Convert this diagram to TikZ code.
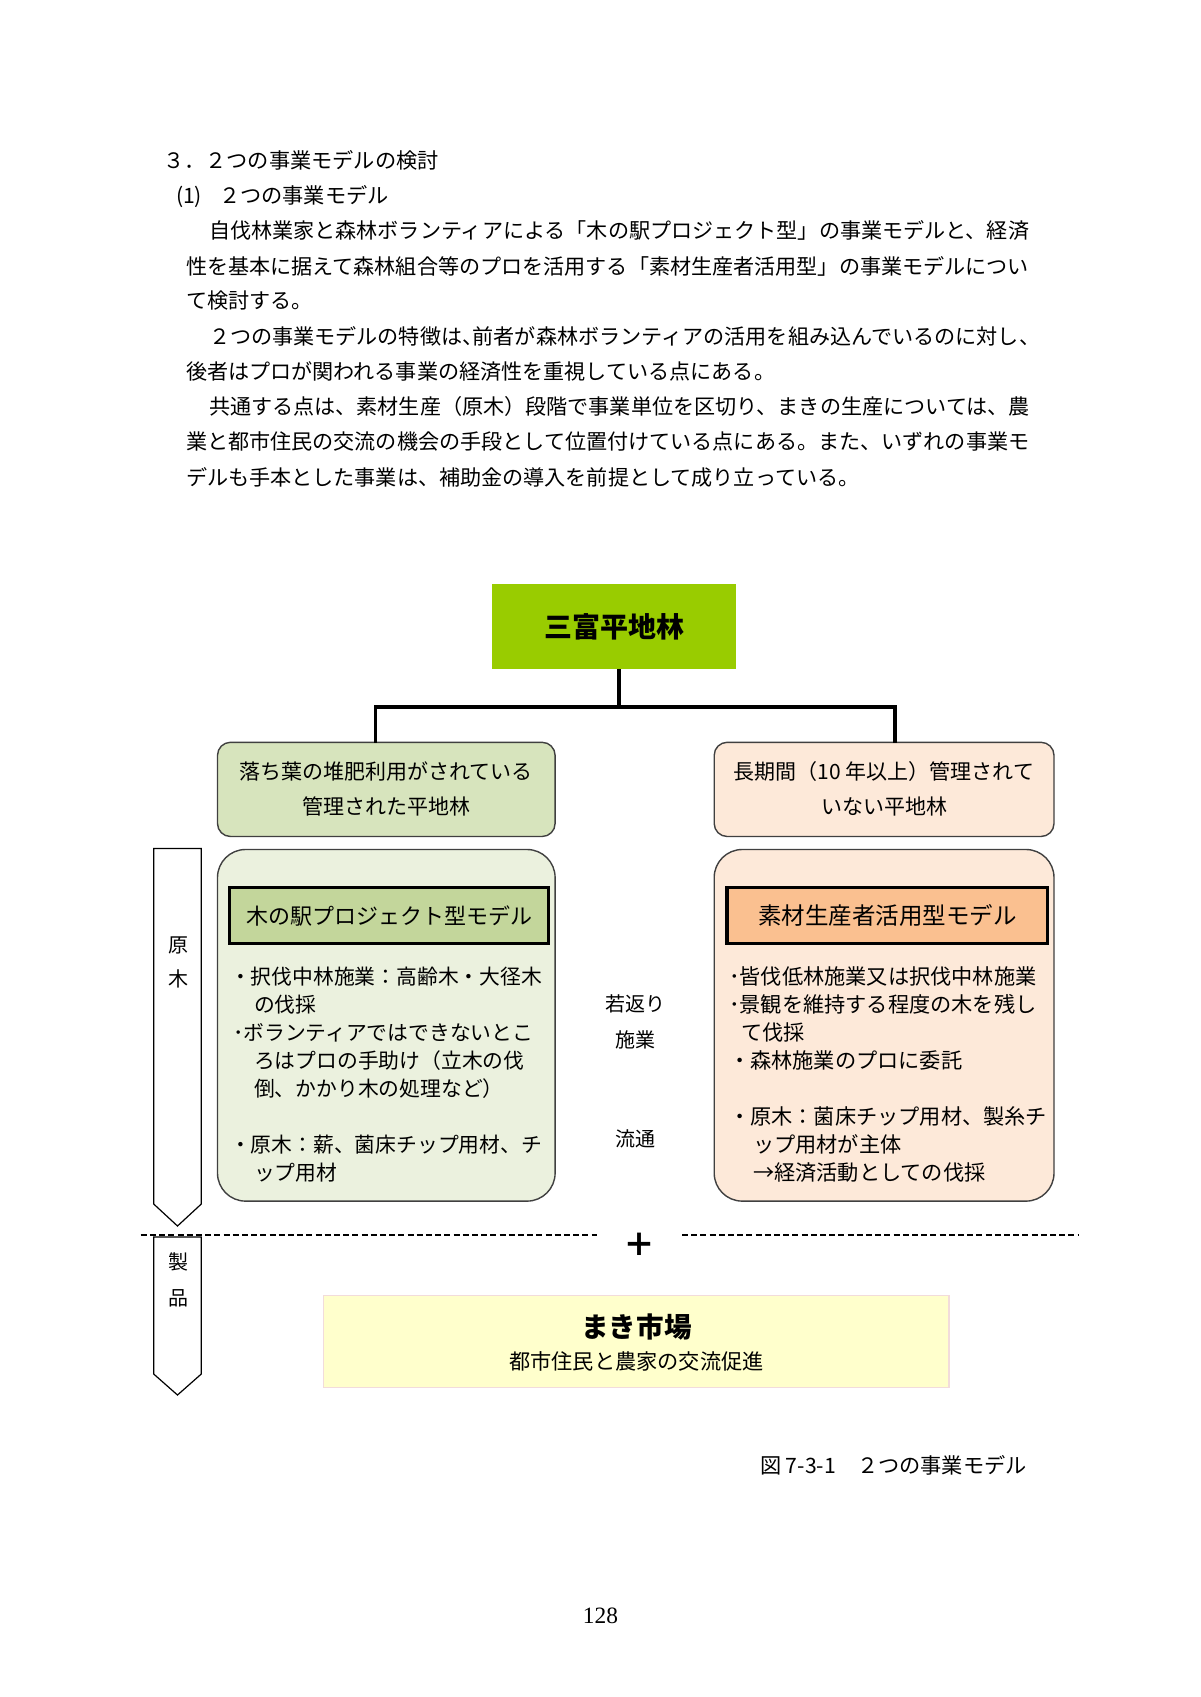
\documentclass[tikz,border=0pt]{standalone}
\usepackage{fontspec}
\setmainfont{Noto Sans CJK JP}
\newfontfamily\pagenumfont{Liberation Serif}
\usetikzlibrary{fit}
\definecolor{topgreen}{HTML}{99CC00}
\definecolor{subgreen}{HTML}{D7E4BD}
\definecolor{biggreen}{HTML}{EBF1DE}
\definecolor{titlegreen}{HTML}{C3D69B}
\definecolor{subpeach}{HTML}{FDE9D9}
\definecolor{bigpeach}{HTML}{FDE9D9}
\definecolor{titleorange}{HTML}{FAC090}
\definecolor{marketyellow}{HTML}{FFFFCC}
\definecolor{marketborder}{HTML}{F2DCDB}
\newcommand\mytl[5][]{\node[tl,#1] (#2) at (#3,#4) {#5};}
\begin{document}
\begin{tikzpicture}[x=0.5pt,y=-0.5pt,
  tl/.style={anchor=base west,inner sep=0pt,outer sep=0pt},
  tc/.style={anchor=base,inner sep=0pt,outer sep=0pt},
  bodyf/.style={font=\fontsize{10.55pt}{12pt}\selectfont},
  headf/.style={font=\fontsize{10.6pt}{12pt}\selectfont},
  bulf/.style={font=\fontsize{10.4pt}{12pt}\selectfont},
  bulrf/.style={font=\fontsize{10.6pt}{12pt}\selectfont},
  subf/.style={font=\fontsize{10.5pt}{12pt}\selectfont},
  midf/.style={font=\fontsize{10pt}{12pt}\selectfont},
  rbox/.style={draw=black!75,line width=0.7pt,inner sep=0pt},
  titlebox/.style={draw=black,line width=1.8pt,inner sep=0pt},
  conn/.style={line width=1.6pt},
  dashline/.style={line width=0.7pt,dash pattern=on 3pt off 1.6pt},
  arrowshape/.style={draw=black,line width=0.6pt,fill=white}
]
\fill[white] (0,0) rectangle (1200,1697);
\useasboundingbox (0,0) rectangle (1200,1697);

% ---- headings and body text ----
\mytl[headf]{h1}{163}{168}{３．２つの事業モデルの検討}
\mytl[headf]{h2}{176}{203.7}{(1)\hspace{0.8em}２つの事業モデル}
\mytl[bodyf]{p1}{209}{238.5}{自伐林業家と森林ボランティアによる「木の駅プロジェクト型」の事業モデルと、経済}
\mytl[bodyf]{p2}{186}{274.2}{性を基本に据えて森林組合等のプロを活用する「素材生産者活用型」の事業モデルについ}
\mytl[bodyf]{p3}{186}{308.8}{て検討する。}
\mytl[bodyf]{p4}{209}{344.5}{２つの事業モデルの特徴は、\hspace{-0.5em}前者が森林ボランティアの活用を組み込んでいるのに対し、}
\mytl[bodyf]{p5}{186}{379.2}{後者はプロが関われる事業の経済性を重視している点にある。}
\mytl[bodyf]{p6}{209}{414.9}{共通する点は、素材生産（原木）段階で事業単位を区切り、まきの生産については、農}
\mytl[bodyf]{p7}{186}{449.5}{業と都市住民の交流の機会の手段として位置付けている点にある。また、いずれの事業モ}
\mytl[bodyf]{p8}{186}{485.2}{デルも手本とした事業は、補助金の導入を前提として成り立っている。}

% ---- top box ----
\node[fill=topgreen,inner sep=0pt,fit={(492.4,584.3) (735.8,668.7)}] (top) {};
\node[tc,font=\fontsize{14pt}{16pt}\selectfont\bfseries] (toptext) at (614,637) {三富平地林};

% ---- sub boxes ----
\node[rbox,fill=subgreen,rounded corners=6.5pt,fit={(217.5,742.3) (555.1,836.5)}] (lsub) {};
\node[rbox,fill=subpeach,rounded corners=6.5pt,fit={(714.2,742.3) (1054,836.5)}] (rsub) {};
\node[tc,subf] (lsub1) at (386.3,779.5) {落ち葉の堆肥利用がされている};
\node[tc,subf] (lsub2) at (386.3,814.2) {管理された平地林};
\node[tc,subf] (rsub1) at (884.1,779.5) {長期間（10 年以上）管理されて};
\node[tc,subf] (rsub2) at (884.1,814.2) {いない平地林};

% ---- connectors ----
\coordinate (tj) at (619,707);
\coordinate (jl) at (375.5,707);
\coordinate (jr) at (895,707);
\draw[conn] (top.south -| tj) -- (tj);
\draw[conn,line cap=rect] (jl |- lsub.north) -- (jl) -- (jr) -- (jr |- rsub.north);

% ---- big boxes ----
\node[rbox,fill=biggreen,rounded corners=14pt,fit={(217.5,849.5) (555.1,1201.1)}] (lbig) {};
\node[rbox,fill=bigpeach,rounded corners=14pt,fit={(714.2,849.5) (1054,1201.1)}] (rbig) {};
\node[titlebox,fill=titlegreen,fit={(229.4,887.3) (548.6,943.6)}] (ltitle) {};
\node[titlebox,fill=titleorange,fit={(727.2,887.3) (1047.5,943.6)}] (rtitle) {};
\node[tc,font=\fontsize{11pt}{13pt}\selectfont] (ltitletext) at (389,924) {木の駅プロジェクト型モデル};
\node[tc,font=\fontsize{11.75pt}{13pt}\selectfont] (rtitletext) at (887.4,924.4) {素材生産者活用型モデル};

% left bullets
\mytl[bulf]{bl1}{230}{984}{・択伐中林施業：高齢木・大径木}
\mytl[bulf]{bl2}{254}{1012.1}{の伐採}
\mytl[bulf]{bl3}{233}{1040.2}{･ボランティアではできないとこ}
\mytl[bulf]{bl4}{254}{1068.3}{ろはプロの手助け（立木の伐}
\mytl[bulf]{bl5}{254}{1096.5}{倒、かかり木の処理など）}
\mytl[bulf]{bl6}{230}{1152.8}{・原木：薪、菌床チップ用材、チ}
\mytl[bulf]{bl7}{254}{1180.9}{ップ用材}

% right bullets
\mytl[bulrf]{br1}{729}{984}{･皆伐低林施業又は択伐中林施業}
\mytl[bulrf]{br2}{729}{1012.1}{･景観を維持する程度の木を残し}
\mytl[bulrf]{br3}{741}{1040.2}{て伐採}
\mytl[bulrf]{br4}{729}{1068.3}{・森林施業のプロに委託}
\mytl[bulrf]{br5}{729}{1124.6}{・原木：菌床チップ用材、製糸チ}
\mytl[bulrf]{br6}{753}{1152.8}{ップ用材が主体}
\mytl[bulrf]{br7}{753}{1180.9}{→経済活動としての伐採}

% middle labels
\node[tc,midf] (m1) at (635,1011.8) {若返り};
\node[tc,midf] (m2) at (635,1047.5) {施業};
\node[tc,midf] (m3) at (635,1146) {流通};

% ---- side arrows ----
\draw[arrowshape] (153.7,848.4) -- (201.3,848.4) -- (201.3,1204) -- (177.5,1226) -- (153.7,1204) -- cycle;
\draw[arrowshape] (153.7,1237) -- (201.3,1237) -- (201.3,1374) -- (177.5,1395) -- (153.7,1374) -- cycle;
\node[tc,midf] (a1) at (178,952.5) {原};
\node[tc,midf] (a2) at (178,986.5) {木};
\node[tc,midf] (a3) at (178,1269.5) {製};
\node[tc,midf] (a4) at (178,1305) {品};

% ---- dashed separator and plus ----
\coordinate (d1) at (140.7,1235);
\coordinate (d2) at (597,1235);
\coordinate (d3) at (682,1235);
\coordinate (d4) at (1079,1235);
\draw[dashline] (d1) -- (d2);
\draw[dashline] (d3) -- (d4);
\node[inner sep=0pt,font=\fontsize{16pt}{18pt}\selectfont\bfseries] (plus) at (639.5,1244.5) {＋};

% ---- market box ----
\node[draw=marketborder,line width=0.7pt,fill=marketyellow,inner sep=0pt,
      fit={(323.5,1295.3) (949,1387.3)}] (market) {};
\node[tc,font=\fontsize{13.8pt}{16pt}\selectfont\bfseries] (mk1) at (636.5,1337.5) {まき市場};
\node[tc,font=\fontsize{10.6pt}{12pt}\selectfont] (mk2) at (636.5,1369) {都市住民と農家の交流促進};

% ---- caption and page number ----
\mytl[headf]{cap}{760}{1473}{図 7-3-1　２つの事業モデル}
\node[tc,font=\fontsize{11.7pt}{14pt}\pagenumfont] (pg) at (600.5,1623) {128};
\end{tikzpicture}
\end{document}
